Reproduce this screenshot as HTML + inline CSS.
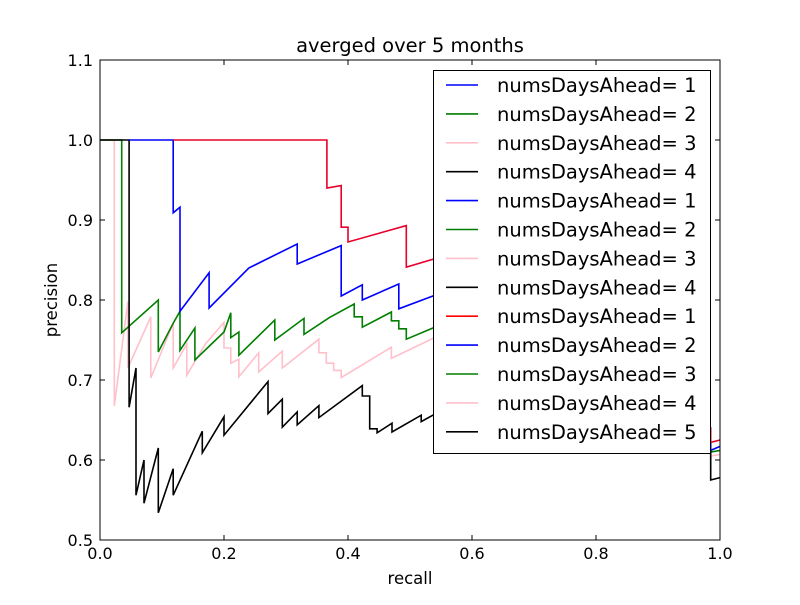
<!DOCTYPE html>
<html><head><meta charset="utf-8"><style>
body{margin:0;background:#fff}
svg{font-family:"DejaVu Sans","Liberation Sans",sans-serif}
</style></head><body>
<svg width="800" height="600">
<rect width="800" height="600" fill="#fff"/>
<g id="series"></g>
<rect x="100" y="60" width="620" height="480" fill="none" stroke="#000" stroke-width="1"/>
<g id="ticks"></g>
<text x="410" y="52" text-anchor="middle" font-size="19.5">averged over 5 months</text>
<text x="410" y="584" text-anchor="middle" font-size="16.5">recall</text>
<text x="57" y="300" text-anchor="middle" font-size="16.5" transform="rotate(-90 57 300)">precision</text>
<g id="legend"></g>
</svg>
<script>
const xTicks=[0,0.2,0.4,0.6,0.8,1.0];
const xTickLabels=["0.0","0.2","0.4","0.6","0.8","1.0"];
const yTicks=[0.5,0.6,0.7,0.8,0.9,1.0,1.1];
const yTickLabels=["0.5","0.6","0.7","0.8","0.9","1.0","1.1"];
const pinkSeries=[[0,1],[0.023,1],[0.023,0.6675],[0.045,0.798],[0.045,0.715],[0.082,0.779],[0.082,0.7025],[0.118,0.771],[0.118,0.715],[0.140,0.745],[0.140,0.706],[0.17,0.745],[0.2,0.772],[0.2,0.74],[0.211,0.74],[0.211,0.721],[0.224,0.726],[0.224,0.704],[0.256,0.734],[0.256,0.71],[0.294,0.736],[0.294,0.715],[0.353,0.751],[0.353,0.734],[0.365,0.734],[0.365,0.721],[0.377,0.721],[0.377,0.712],[0.389,0.712],[0.389,0.703],[0.470,0.741],[0.470,0.727],[0.537,0.752],[0.975,0.63],[0.975,0.62],[0.985,0.62],[0.985,0.605],[1,0.607]];
const greenSeries=[[0,1],[0.035,1],[0.035,0.759],[0.094,0.80],[0.094,0.735],[0.118,0.771],[0.129,0.786],[0.129,0.737],[0.153,0.765],[0.153,0.725],[0.2,0.76],[0.211,0.784],[0.211,0.753],[0.224,0.76],[0.224,0.731],[0.282,0.775],[0.282,0.75],[0.329,0.777],[0.329,0.757],[0.37,0.778],[0.410,0.795],[0.410,0.779],[0.423,0.779],[0.423,0.766],[0.470,0.785],[0.470,0.774],[0.482,0.774],[0.482,0.764],[0.494,0.764],[0.494,0.751],[0.537,0.765],[0.975,0.64],[0.975,0.633],[0.985,0.635],[0.985,0.61],[1,0.612]];
const blackSeries=[[0,1],[0.047,1],[0.047,0.666],[0.058,0.715],[0.058,0.556],[0.071,0.6],[0.071,0.546],[0.094,0.615],[0.094,0.534],[0.118,0.589],[0.118,0.556],[0.165,0.636],[0.165,0.609],[0.2,0.654],[0.2,0.631],[0.271,0.698],[0.271,0.658],[0.294,0.676],[0.294,0.641],[0.318,0.66],[0.318,0.644],[0.353,0.668],[0.353,0.653],[0.423,0.693],[0.423,0.68],[0.435,0.68],[0.435,0.639],[0.447,0.639],[0.447,0.634],[0.471,0.646],[0.471,0.635],[0.518,0.656],[0.518,0.648],[0.537,0.656],[0.985,0.64],[0.985,0.575],[1,0.578]];
const blueSeries=[[0.047,1],[0.118,1],[0.118,0.909],[0.129,0.916],[0.129,0.786],[0.176,0.834],[0.176,0.79],[0.24,0.84],[0.318,0.87],[0.318,0.845],[0.389,0.868],[0.389,0.805],[0.423,0.819],[0.423,0.80],[0.482,0.82],[0.482,0.789],[0.537,0.805],[0.985,0.63],[0.985,0.612],[1,0.617]];
const redSeries=[[0.118,1],[0.366,1],[0.366,0.94],[0.389,0.943],[0.389,0.891],[0.400,0.891],[0.400,0.8725],[0.494,0.893],[0.494,0.841],[0.537,0.851],[0.985,0.64],[0.985,0.622],[1,0.625]];
const legendLabels=["numsDaysAhead= 1","numsDaysAhead= 2","numsDaysAhead= 3","numsDaysAhead= 4","numsDaysAhead= 1","numsDaysAhead= 2","numsDaysAhead= 3","numsDaysAhead= 4","numsDaysAhead= 1","numsDaysAhead= 2","numsDaysAhead= 3","numsDaysAhead= 4","numsDaysAhead= 5"];
const legendColors=["#0000ff","#007f00","#ffc0cb","#000000","#0000ff","#007f00","#ffc0cb","#000000","#ff0000","#0000ff","#007f00","#ffc0cb","#000000"];
const NS="http://www.w3.org/2000/svg";
const X=v=>100+v*620, Y=v=>540-(v-0.5)*800;
const sg=document.getElementById('series');
[[pinkSeries,"#ffc0cb","pink"],[greenSeries,"#007f00","green"],[blackSeries,"#000000","black"],[blueSeries,"#0000ff","blue"],[redSeries,"#e8002a","red"]].forEach(([d,c,n])=>{
 const p=document.createElementNS(NS,'polyline');
 p.setAttribute('points',d.map(q=>X(q[0]).toFixed(1)+','+Y(q[1]).toFixed(1)).join(' '));
 p.setAttribute('fill','none');p.setAttribute('stroke',c);p.setAttribute('stroke-width','1.6');
 
 
 sg.appendChild(p);
});
const tg=document.getElementById('ticks');
function ln(x1,y1,x2,y2){const l=document.createElementNS(NS,'line');l.setAttribute('x1',x1);l.setAttribute('y1',y1);l.setAttribute('x2',x2);l.setAttribute('y2',y2);l.setAttribute('stroke','#000');tg.appendChild(l);return l;}
function tx(x,y,s,a){const t=document.createElementNS(NS,'text');t.setAttribute('x',x);t.setAttribute('y',y);t.setAttribute('font-size','16');t.setAttribute('text-anchor',a);t.textContent=s;tg.appendChild(t);return t;}
xTicks.forEach((v,i)=>{const x=X(v);ln(x,540,x,535);ln(x,60,x,65);
 const t=tx(x,559,xTickLabels[i],'middle');
 
 });
yTicks.forEach((v,i)=>{const y=Y(v);ln(100,y,105,y);ln(720,y,715,y);
 const t=tx(93,y+6,yTickLabels[i],'end');
 
 });
const lg=document.getElementById('legend');
const box=document.createElementNS(NS,'rect');
box.setAttribute('x','433.5');box.setAttribute('y','70.5');box.setAttribute('width','277');box.setAttribute('height','383');
box.setAttribute('fill','#fff');box.setAttribute('stroke','#000');


lg.appendChild(box);
legendLabels.forEach((s,i)=>{
 const y=85+i*28.9;
 const g=document.createElementNS(NS,'g');
 
 
 const l=document.createElementNS(NS,'line');l.setAttribute('x1',446);l.setAttribute('x2',478);l.setAttribute('y1',y);l.setAttribute('y2',y);l.setAttribute('stroke',legendColors[i]);l.setAttribute('stroke-width','1.6');
 const t=document.createElementNS(NS,'text');t.setAttribute('x',497);t.setAttribute('y',y+7);t.setAttribute('font-size','19.5');t.textContent=s;
 g.appendChild(l);g.appendChild(t);lg.appendChild(g);
});
</script>
</body></html>
